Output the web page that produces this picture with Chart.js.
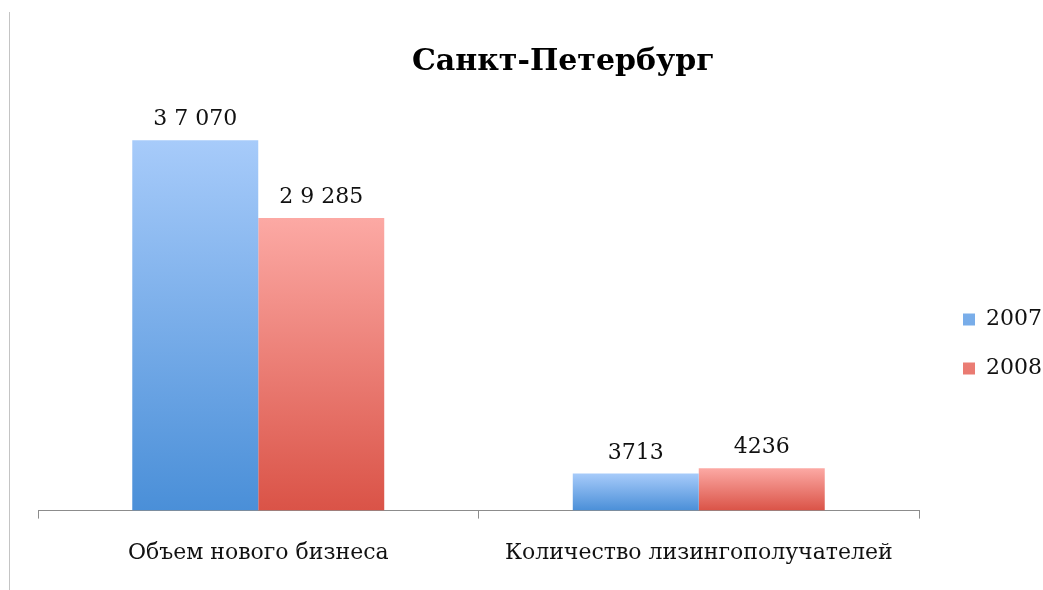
<!DOCTYPE html>
<html>
<head>
<meta charset="utf-8">
<script src="https://cdn.jsdelivr.net/npm/chart.js@4.4.1/dist/chart.umd.min.js"></script>
<style>
  html, body { margin: 0; padding: 0; background: #fff; }
  #wrap { position: relative; width: 1043px; height: 590px; }
  #edge { position: absolute; left: 9px; top: 12px; bottom: 0; border-left: 1px solid #c4c4c4; }
</style>
</head>
<body>
<div id="wrap">
  <div id="edge"></div>
  <canvas id="myChart" width="1043" height="590"></canvas>
</div>
<script>
const categories = ['Объем нового бизнеса', 'Количество лизингополучателей'];
const years = ['2007', '2008'];
const values2007 = [37070, 3713];
const values2008 = [29285, 4236];
const labels2007 = ['3 7 070', '3713'];
const labels2008 = ['2 9 285', '4236'];
const chartTitle = 'Санкт-Петербург';

const serif = "'DejaVu Serif', 'Liberation Serif', serif";
const legendGap = 8;

function barGradient(top, bottom) {
    return function (context) {
        const chart = context.chart;
        if (!chart.chartArea || context.parsed === undefined) return bottom;
        const y = chart.scales.y;
        const y0 = y.getPixelForValue(context.parsed.y);
        const y1 = y.getPixelForValue(0);
        const g = chart.ctx.createLinearGradient(0, y0, 0, y1);
        g.addColorStop(0, top);
        g.addColorStop(1, bottom);
        return g;
    };
}

// value labels above the bars
const valueLabels = {
    id: 'valueLabels',
    afterDatasetsDraw(chart) {
        const ctx = chart.ctx;
        const texts = [labels2007, labels2008];
        ctx.save();
        ctx.font = '22px ' + serif;
        ctx.fillStyle = '#111';
        ctx.textAlign = 'center';
        ctx.textBaseline = 'alphabetic';
        chart.data.datasets.forEach((ds, i) => {
            chart.getDatasetMeta(i).data.forEach((bar, j) => {
                ctx.fillText(texts[i][j], bar.x, bar.y - 15);
            });
        });
        ctx.restore();
    }
};

// title, centered a bit right of the canvas middle like the original
const titlePlugin = {
    id: 'titlePlugin',
    afterDraw(chart) {
        const ctx = chart.ctx;
        ctx.save();
        ctx.font = 'bold 30px ' + serif;
        ctx.fillStyle = '#000';
        ctx.textAlign = 'center';
        ctx.textBaseline = 'middle';
        ctx.fillText(chartTitle, chart.width * 0.54, 62);
        ctx.restore();
    }
};

// leave a wider gap between the plot and the legend
const legendSpacer = {
    id: 'legendSpacer',
    afterInit(chart) {
        const lg = chart.legend;
        const fit = lg.fit.bind(lg);
        lg.fit = function () { fit(); this.width += legendGap; };
        const draw = lg.draw.bind(lg);
        lg.draw = function () {
            const c = this.ctx;
            c.save();
            c.translate(legendGap + 9, -5);
            draw();
            c.restore();
        };
    }
};

const ctx = document.getElementById('myChart');
const myChart = new Chart(ctx, {
    type: 'bar',
    data: {
        labels: categories,
        datasets: [{
            label: years[0],
            data: values2007,
            backgroundColor: barGradient('#a7cbfa', '#4a8fd8'),
            borderWidth: 0
        }, {
            label: years[1],
            data: values2008,
            backgroundColor: barGradient('#fca9a4', '#da5347'),
            borderWidth: 0
        }]
    },
    options: {
        responsive: false,
        animation: false,
        layout: {
            padding: { left: 38, top: 111, right: 0, bottom: 3 }
        },
        datasets: {
            bar: { categoryPercentage: 0.572, barPercentage: 1 }
        },
        scales: {
            x: {
                grid: {
                    offset: true,
                    drawOnChartArea: false,
                    drawTicks: true,
                    tickLength: 8,
                    color: '#8c8c8c'
                },
                border: { color: '#8c8c8c', width: 1 },
                ticks: {
                    color: '#111',
                    padding: 21,
                    font: { family: serif, size: 22 }
                }
            },
            y: {
                display: false,
                min: 0,
                max: 40000
            }
        },
        plugins: {
            legend: {
                position: 'right',
                labels: {
                    boxWidth: 12,
                    boxHeight: 12,
                    padding: 27,
                    color: '#111',
                    font: { family: serif, size: 22 }
                }
            },
            tooltip: { enabled: false }
        }
    },
    plugins: [valueLabels, titlePlugin, legendSpacer]
});
</script>
</body>
</html>
